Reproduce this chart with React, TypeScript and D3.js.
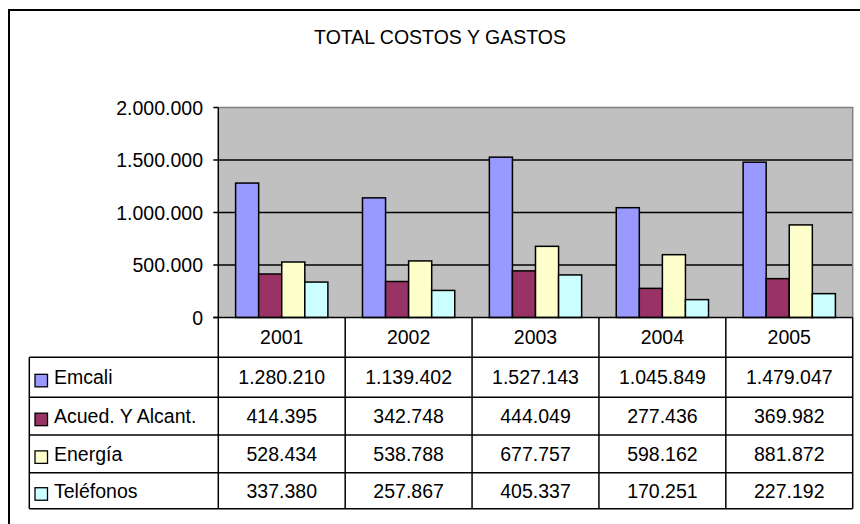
import { useEffect, useRef } from 'react';
import * as d3 from 'd3';

const years = ['2001', '2002', '2003', '2004', '2005'];
const seriesNames = ['Emcali', 'Acued. Y Alcant.', 'Energía', 'Teléfonos'];
const seriesColors = ['#9999FF', '#993366', '#FFFFCC', '#CCFFFF'];
const emcali = [1280210, 1139402, 1527143, 1045849, 1479047];
const acueducto = [414395, 342748, 444049, 277436, 369982];
const energia = [528434, 538788, 677757, 598162, 881872];
const telefonos = [337380, 257867, 405337, 170251, 227192];
const yTicks = [0, 500000, 1000000, 1500000, 2000000];

const seriesValues = [emcali, acueducto, energia, telefonos];

const FONT = '"Liberation Sans", Arial, sans-serif';
const FS = 19.5;

const App = () => {
  const svgRef = useRef<SVGSVGElement>(null);

  useEffect(() => {
    const width = 860;
    const height = 524;
    const svg = d3.select(svgRef.current);
    svg.selectAll('*').remove();
    svg.attr('width', width).attr('height', height);

    const fmt = d3.formatLocale({ decimal: ',', thousands: '.', grouping: [3], currency: ['$', ''] }).format(',d');

    // plot box
    const left = 218.3;
    const right = 852.7;
    const top = 107.5;
    const bottom = 317.5;
    const rowLines = [357.3, 397.3, 435, 472.7, 508.7];
    const tableLeft = 29.3;

    // outer frame (only top and left are visible)
    svg.append('path')
      .attr('d', `M9,${height + 5}V10H${width + 5}`)
      .attr('fill', 'none')
      .attr('stroke', '#000')
      .attr('stroke-width', 2);

    svg.append('text')
      .attr('x', 440)
      .attr('y', 44)
      .attr('text-anchor', 'middle')
      .attr('font-family', FONT)
      .attr('font-size', FS)
      .text('TOTAL COSTOS Y GASTOS');

    const x = d3.scaleBand().domain(years).range([left, right]);
    const xInner = d3.scaleBand().domain(seriesNames).range([0, x.bandwidth()]).paddingInner(0).paddingOuter(0.75);
    const y = d3.scaleLinear().domain([0, 2000000]).range([bottom, top]);

    svg.append('rect')
      .attr('x', left)
      .attr('y', top)
      .attr('width', right - left)
      .attr('height', bottom - top)
      .attr('fill', '#C0C0C0');

    // grid lines
    svg.append('g')
      .selectAll('line')
      .data(yTicks.filter(t => t > 0 && t < 2000000))
      .enter()
      .append('line')
      .attr('x1', left)
      .attr('x2', right)
      .attr('y1', d => y(d))
      .attr('y2', d => y(d))
      .attr('stroke', '#000')
      .attr('stroke-width', 1.5);

    // plot border top/right (grey)
    svg.append('path')
      .attr('d', `M${left},${top}H${right}V${bottom}`)
      .attr('fill', 'none')
      .attr('stroke', '#808080')
      .attr('stroke-width', 1.5);

    // bars
    seriesNames.forEach((name, si) => {
      svg.append('g')
        .selectAll('rect')
        .data(seriesValues[si])
        .enter()
        .append('rect')
        .attr('x', (d, i) => (x(years[i]) || 0) + (xInner(name) || 0))
        .attr('y', d => y(d))
        .attr('width', xInner.bandwidth())
        .attr('height', d => bottom - y(d))
        .attr('fill', seriesColors[si])
        .attr('stroke', '#000')
        .attr('stroke-width', 1.5);
    });

    // y axis ticks + labels
    const yAxis = svg.append('g');
    yAxis.selectAll('line')
      .data(yTicks)
      .enter()
      .append('line')
      .attr('x1', left - 5)
      .attr('x2', left)
      .attr('y1', d => y(d))
      .attr('y2', d => y(d))
      .attr('stroke', '#000')
      .attr('stroke-width', 1.5);
    yAxis.selectAll('text')
      .data(yTicks)
      .enter()
      .append('text')
      .attr('x', 203)
      .attr('y', d => y(d) + FS * 0.36)
      .attr('text-anchor', 'end')
      .attr('font-family', FONT)
      .attr('font-size', FS)
      .text(d => fmt(d));

    // data table lines
    const lines = svg.append('g').attr('stroke', '#000').attr('stroke-width', 1.5);
    lines.append('line').attr('x1', left - 5).attr('x2', right).attr('y1', bottom).attr('y2', bottom);
    lines.append('line').attr('x1', left).attr('x2', left).attr('y1', top).attr('y2', rowLines[4]);
    rowLines.forEach(ry => {
      lines.append('line').attr('x1', tableLeft).attr('x2', right).attr('y1', ry).attr('y2', ry);
    });
    lines.append('line').attr('x1', tableLeft).attr('x2', tableLeft).attr('y1', rowLines[0]).attr('y2', rowLines[4]);
    years.forEach(yr => {
      const cx = (x(yr) || 0) + x.bandwidth();
      lines.append('line').attr('x1', cx).attr('x2', cx).attr('y1', bottom).attr('y2', rowLines[4]);
    });

    // year headers
    svg.append('g')
      .selectAll('text')
      .data(years)
      .enter()
      .append('text')
      .attr('x', d => (x(d) || 0) + x.bandwidth() / 2)
      .attr('y', (bottom + rowLines[0]) / 2 + FS * 0.36)
      .attr('text-anchor', 'middle')
      .attr('font-family', FONT)
      .attr('font-size', FS)
      .text(d => d);

    // rows
    seriesNames.forEach((name, si) => {
      const cy = (rowLines[si] + rowLines[si + 1]) / 2;
      const base = cy + FS * 0.36;
      svg.append('rect')
        .attr('x', 35)
        .attr('y', base - 10)
        .attr('width', 12.5)
        .attr('height', 12.5)
        .attr('fill', seriesColors[si])
        .attr('stroke', '#000')
        .attr('stroke-width', 1.3);
      svg.append('text')
        .attr('x', 54)
        .attr('y', base)
        .attr('font-family', FONT)
        .attr('font-size', FS)
        .text(name);
      svg.append('g')
        .selectAll('text')
        .data(seriesValues[si])
        .enter()
        .append('text')
        .attr('x', (d, i) => (x(years[i]) || 0) + x.bandwidth() / 2)
        .attr('y', base)
        .attr('text-anchor', 'middle')
        .attr('font-family', FONT)
        .attr('font-size', FS)
        .text(d => fmt(d));
    });
  }, []);

  return (
    <svg
      ref={svgRef}
      style={{ position: 'absolute', left: 0, top: 0, background: '#fff' }}
    ></svg>
  );
};

export default App;
